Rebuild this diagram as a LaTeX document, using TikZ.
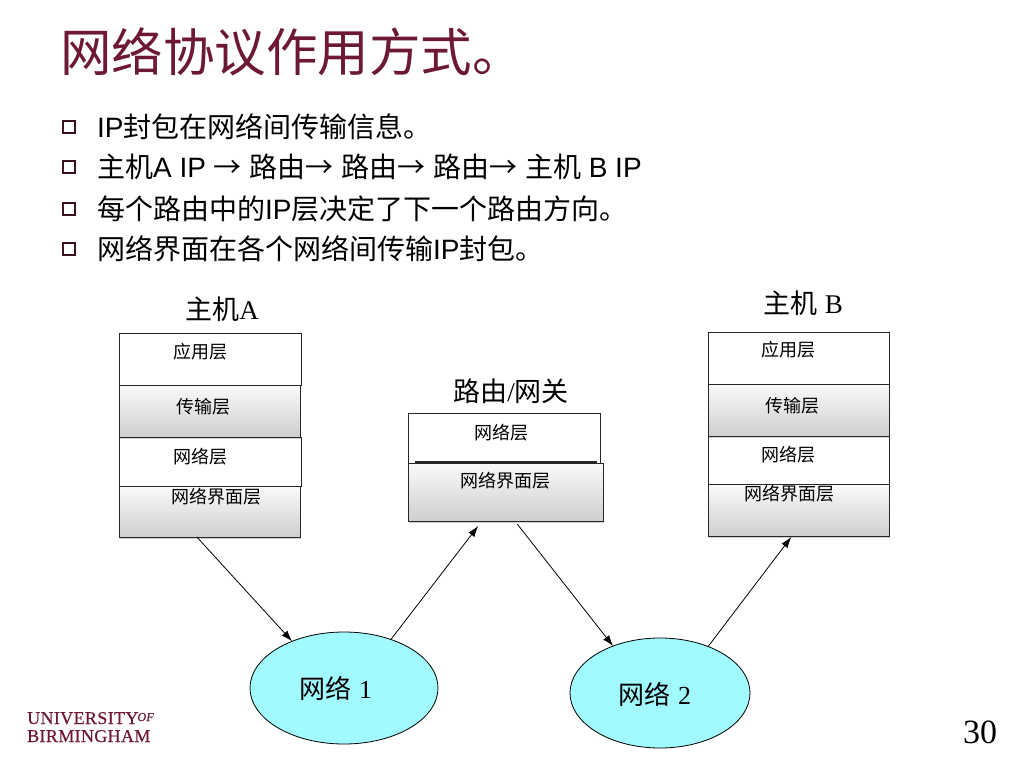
\documentclass[tikz,border=0pt]{standalone}
\usepackage{fontspec}
\setmainfont{Liberation Sans}
\newfontfamily\cjk{Noto Sans CJK SC}
\newfontfamily\serifr{Liberation Serif}
\newfontfamily\logofont[LetterSpace=2,FakeBold=0.5]{Liberation Serif}
\usetikzlibrary{shapes.geometric,calc,arrows.meta,shadows}
\definecolor{titlemaroon}{RGB}{110,24,56}
\definecolor{bulletc}{RGB}{60,16,36}
\definecolor{cyanfill}{RGB}{160,250,255}
\begin{document}
\begin{tikzpicture}[x=1pt,y=-1pt,
  boxbase/.style={draw=black!85, line width=0.8pt, anchor=north west, inner sep=0pt, outer sep=0pt},
  layerw/.style={boxbase, fill=white},
  layerg/.style={boxbase, top color=gray!4, bottom color=gray!38,
     drop shadow={shadow xshift=1pt, shadow yshift=-1.5pt, opacity=0.35}},
  lt/.style={font=\cjk\fontsize{18}{18}\selectfont, inner sep=0pt},
  hostlbl/.style={font=\fontsize{27}{27}\selectfont, inner sep=0pt},
  net/.style={ellipse, draw=black, line width=0.8pt, fill=cyanfill, inner sep=0pt, outer sep=0pt},
  nettxt/.style={inner sep=0pt, font=\fontsize{26}{26}\selectfont},
  arr/.style={draw=black, line width=0.8pt, -{Latex[length=11pt,width=7.5pt]}},
  bul/.style={draw=bulletc, line width=1.6pt, minimum size=12.5pt, inner sep=0pt},
  btxt/.style={anchor=base west, inner sep=0pt, font=\fontsize{28}{28}\selectfont},
]
\useasboundingbox (0,0) rectangle (1024,768);
\fill[white] (0,0) rectangle (1024,768);

% title
\node[anchor=base west, inner sep=0pt, text=titlemaroon, font=\cjk\fontsize{51.5}{51.5}\selectfont] (title) at (60,71) {网络协议作用方式。};

% bullets
\node[bul] (s1) at (69,127) {};
\node[bul] (s2) at (69,167) {};
\node[bul] (s3) at (69,209) {};
\node[bul] (s4) at (69,249) {};
\node[btxt] (t1) at (97,137) {IP{\cjk 封包在网络间传输信息。}};
\node[btxt] (t2) at (97,177) {{\cjk 主机}A IP {\cjk →} {\cjk 路由→} {\cjk 路由→} {\cjk 路由→} {\cjk 主机} B IP};
\node[btxt] (t3) at (97,219) {{\cjk 每个路由中的}IP{\cjk 层决定了下一个路由方向。}};
\node[btxt] (t4) at (97,259) {{\cjk 网络界面在各个网络间传输}IP{\cjk 封包。}};

% host A
\node[hostlbl] (hA) at (222,309) {{\cjk 主机}{\serifr A}};
\node[layerw, minimum width=182pt, minimum height=52pt] (a1) at (119,333) {};
\node[layerw, minimum width=182pt, minimum height=49pt] (a3) at (119,437) {};
\node[layerg, minimum width=181pt, minimum height=52pt] (a2) at (119,385) {};
\node[layerg, minimum width=181pt, minimum height=51pt] (a4) at (119,486) {};
\node[lt] (a1t) at (200,352) {应用层};
\node[lt] (a2t) at (203,407) {传输层};
\node[lt] (a3t) at (200,457) {网络层};
\node[lt] (a4t) at (216,497) {网络界面层};

% router
\node[hostlbl] (hR) at (511,391) {{\cjk 路由}{\serifr /}{\cjk 网关}};
\node[layerw, minimum width=192pt, minimum height=50pt] (r1) at (408,413) {};
\draw[line width=1.6pt, black!85] ($(r1.south west)+(7,-1)$) -- ($(r1.south east)+(-3,-1)$);
\node[layerg, minimum width=195pt, minimum height=58pt] (r2) at (408,463) {};
\node[lt] (r1t) at (501,433) {网络层};
\node[lt] (r2t) at (505,481) {网络界面层};

% host B
\node[hostlbl] (hB) at (803,303) {{\cjk 主机} {\serifr B}};
\node[layerw, minimum width=181pt, minimum height=52pt] (b1) at (708,332) {};
\node[layerw, minimum width=181pt, minimum height=48pt] (b3) at (708,436) {};
\node[layerg, minimum width=181pt, minimum height=52pt] (b2) at (708,384) {};
\node[layerg, minimum width=181pt, minimum height=52pt] (b4) at (708,484) {};
\node[lt] (b1t) at (788,350) {应用层};
\node[lt] (b2t) at (792,406) {传输层};
\node[lt] (b3t) at (788,455) {网络层};
\node[lt] (b4t) at (789,494) {网络界面层};

% networks
\node[net, minimum width=188pt, minimum height=112pt] (n1) at (344,688) {};
\node[net, minimum width=180pt, minimum height=110pt] (n2) at (660,693) {};
\node[nettxt] (n1t) at (336,688) {{\cjk 网络} {\serifr 1}};
\node[nettxt] (n2t) at (655,694) {{\cjk 网络} {\serifr 2}};

% arrows
\draw[arr] ($(a4.south west)!0.43!(a4.south east)$) -- (n1.138);
\draw[arr] (n1.46) -- ($(r2.south west)!0.36!(r2.south east)+(0,5)$);
\draw[arr] ($(r2.south west)!0.56!(r2.south east)+(0,3)$) -- (n2.135);
\draw[arr] (n2.44) -- ($(b4.south west)!0.46!(b4.south east)+(0,1)$);

% footer
\node[anchor=base west, inner sep=0pt, text=titlemaroon] (logo1) at (27,724)
  {\logofont\fontsize{18}{18}\selectfont UNIVERSITY\kern-1pt\raisebox{3pt}{\fontsize{12}{12}\selectfont\itshape OF}};
\node[anchor=base west, inner sep=0pt, text=titlemaroon] (logo2) at (27,742)
  {\logofont\fontsize{18}{18}\selectfont BIRMINGHAM};
\node[anchor=base, inner sep=0pt, font=\serifr\fontsize{34}{34}\selectfont] (pg) at (980,743) {30};
\end{tikzpicture}
\end{document}
